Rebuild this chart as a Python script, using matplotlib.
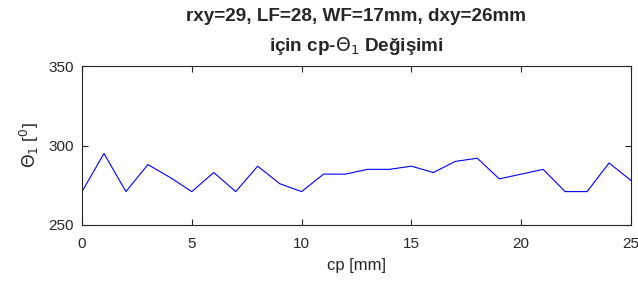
import matplotlib
matplotlib.use("Agg")
import matplotlib.pyplot as plt

# cp [mm] vs theta_1 values
cp_mm = list(range(0, 26))
theta1 = [271, 295, 271, 288, 280, 271, 283, 271, 287, 276,
          271, 282, 282, 285, 285, 287, 283, 290, 292, 279,
          282, 285, 271, 271, 289, 278]

x_ticks = [0, 5, 10, 15, 20, 25]
y_ticks = [250, 300, 350]

plt.rcParams['font.family'] = ['Liberation Sans', 'DejaVu Sans']

fig = plt.figure(figsize=(6.38, 2.84), dpi=100)
ax = fig.add_axes([82 / 638, 1 - 225 / 284, (631 - 82) / 638, (225 - 66) / 284])

ax.plot(cp_mm, theta1, color='#0000ff', linewidth=0.8)

ax.set_xlim(0, 25)
ax.set_ylim(250, 350)
ax.set_xticks(x_ticks)
ax.set_yticks(y_ticks)
ax.tick_params(direction='in', length=4, width=0.8, labelsize=11, colors='#262626',
               top=True, right=True)
ax.tick_params(axis='x', pad=9)
ax.tick_params(axis='y', pad=6)
for s in ax.spines.values():
    s.set_linewidth(0.8)
    s.set_color('#262626')

ax.set_xlabel('cp [mm]', fontsize=12, color='#262626', labelpad=5)
ax.set_ylabel(r'$\Theta_1$ [$^0$]', fontsize=12.5, color='#262626', labelpad=5)
ax.set_title('rxy=29, LF=28, WF=17mm, dxy=26mm\n'
             r'için cp-$\Theta_1$ Değişimi', fontsize=13.6, fontweight='bold',
             color='#262626', pad=11, linespacing=1.6)

fig.savefig('out.png', dpi=100)
